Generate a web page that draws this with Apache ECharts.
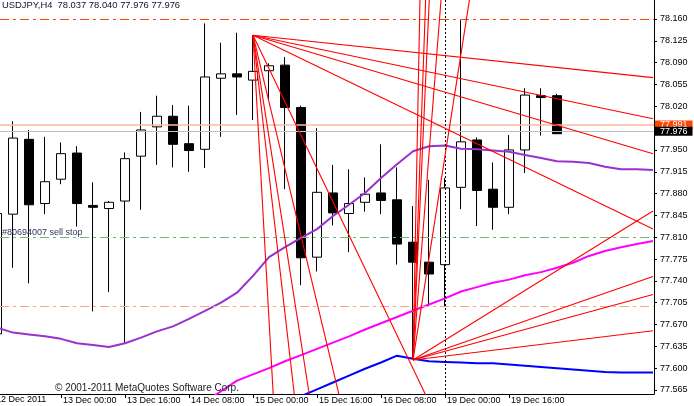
<!DOCTYPE html>
<html><head><meta charset="utf-8">
<script src="https://cdn.jsdelivr.net/npm/echarts@6/dist/echarts.min.js"></script>
<style>html,body{margin:0;padding:0;background:#fff}#c{width:694px;height:406px}</style>
</head><body><div id="c"></div>
<script>
// ---- data (bar index 0 = 12 Dec 12:00, 4-hour bars) ----
const barIndex = [-1,0,1,2,3,4,5,6,7,8,9,10,11,12,13,14,15,16,17,18,19,20,21,22,23,24,25,26,27,28,29,30,31,32,33,34];
const opens  = [77.655,77.847,77.967,77.864,77.903,77.945,77.861,77.856,77.868,77.940,77.987,78.004,77.960,77.951,78.065,78.072,78.062,78.077,78.086,78.018,77.778,77.881,77.848,77.866,77.881,77.870,77.802,77.770,77.766,77.890,77.966,77.887,77.858,77.950,78.037,78.037];
const closes = [77.848,77.969,77.862,77.899,77.944,77.864,77.858,77.866,77.936,77.982,78.004,77.959,77.949,78.067,78.072,78.067,78.076,78.085,78.018,77.777,77.882,77.849,77.864,77.879,77.869,77.799,77.770,77.751,77.889,77.963,77.885,77.858,77.950,78.038,78.034,77.976];
const lows   = [77.655,77.761,77.736,77.847,77.895,77.827,77.691,77.722,77.641,77.854,77.926,77.922,77.915,77.921,77.971,78.006,77.998,78.030,77.887,77.733,77.755,77.829,77.786,77.851,77.847,77.766,77.613,77.699,77.699,77.855,77.828,77.822,77.847,77.913,77.973,77.976];
const highs  = [77.848,77.996,77.982,77.971,77.962,77.956,77.898,77.868,77.946,78.011,78.037,78.022,78.021,78.153,78.122,78.138,78.134,78.089,78.099,78.021,77.985,77.926,77.919,77.906,77.959,77.922,77.860,77.902,77.905,78.158,77.970,77.930,77.974,78.049,78.049,78.040];

// moving averages (values at bar index)
const purpleStart = -1;
const purpleMA = [77.665,77.657,77.654,77.651,77.647,77.640,77.637,77.634,77.640,77.649,77.659,77.667,77.679,77.692,77.705,77.721,77.748,77.778,77.794,77.809,77.823,77.844,77.862,77.881,77.905,77.927,77.948,77.956,77.957,77.952,77.951,77.949,77.947,77.942,77.937,77.932,77.931,77.929,77.923,77.919,77.919,77.918];
const magentaStart = 12;
const magentaMA = [77.546,77.563,77.580,77.590,77.600,77.611,77.621,77.631,77.641,77.651,77.662,77.672,77.682,77.692,77.702,77.712,77.723,77.730,77.737,77.742,77.749,77.754,77.761,77.769,77.780,77.788,77.794,77.799,77.804];
const blueStart = 18;
const blueMA = [77.555,77.566,77.577,77.588,77.599,77.609,77.620,77.615,77.611,77.610,77.609,77.608,77.608,77.606,77.604,77.602,77.600,77.598,77.596,77.594,77.593,77.593,77.593];

// fan objects: origin [bar index, price] and end points
const fan1Origin = [15, 78.134];
const fan1Ends = [[40,78.066],[40,78.000],[40,77.944],[40,77.823],[16.39,77.50],[17.84,77.50],[18.87,77.50],[20.91,77.50],[26.86,77.50]];
const fan2Origin = [25, 77.613];
const fan2Ends = [[40,77.660],[40,77.718],[40,77.747],[40,77.852],[25.48,78.25],[25.87,78.25],[26.12,78.25],[26.93,78.25],[28.89,78.25]];

// horizontal levels
const resistLevel = 78.160;
const askLevel = 77.991;
const bidLevel = 77.976;
const sellStopLevel = 77.810;
const tpLevel = 77.701;
const vLineBar = 27;

// axis ticks
const xTickValues = [3,7,11,15,19,23,27,31];
const xTickLabels = ['13 Dec 00:00','13 Dec 16:00','14 Dec 08:00','15 Dec 00:00','15 Dec 16:00','16 Dec 08:00','19 Dec 00:00','19 Dec 16:00'];
const yTickValues = [77.565,77.600,77.635,77.670,77.705,77.740,77.775,77.810,77.845,77.880,77.915,77.950,77.985,78.020,78.055,78.090,78.125,78.160];

const FONT = '"Liberation Sans", Arial, sans-serif';

const candles = barIndex.map((x,i)=>[x, opens[i], closes[i], lows[i], highs[i]]);
const toSeries = (start, arr) => arr.map((v,i)=>[start+i, v]);

const fanSeries = [];
[[fan1Origin, fan1Ends],[fan2Origin, fan2Ends]].forEach(([o, ends])=>{
  ends.forEach(e=>{
    fanSeries.push({type:'line', data:[o, e], symbol:'none', silent:true, clip:true, z:5,
      lineStyle:{color:'#ff0000', width:1.1}});
  });
});

const chart = echarts.init(document.getElementById('c'), null, {renderer:'canvas'});
chart.setOption({
  animation:false,
  backgroundColor:'#ffffff',
  textStyle:{fontFamily:FONT},
  title:[
    {text:'USDJPY,H4  78.037 78.040 77.976 77.976', left:2, top:1, padding:0,
     textStyle:{fontSize:9.4, fontWeight:'normal', color:'#101038', fontFamily:FONT}},
    {text:'\u00a9 2001-2011 MetaQuotes Software Corp.', left:55, top:383, padding:0,
     textStyle:{fontSize:10, fontWeight:'normal', color:'#202020', fontFamily:FONT}}
  ],
  graphic:[{type:'text', x:-4, y:395, silent:true,
    style:{text:'12 Dec 2011', font:'9px ' + FONT, fill:'#000'}}],
  grid:{left:0, right:40, top:0, bottom:12, containLabel:false, outerBoundsMode:'none'},
  xAxis:{type:'value', min:-0.8125, max:40.0625,
    axisLine:{show:true, onZero:false, lineStyle:{color:'#000', width:1}},
    axisTick:{show:true, customValues:xTickValues, length:4, lineStyle:{color:'#000'}},
    axisLabel:{show:true, customValues:xTickValues, align:'left', margin:2, padding:[0,0,0,2],
      fontSize:9, color:'#000', fontFamily:FONT,
      formatter:(v)=>{const i = xTickValues.indexOf(Math.round(v)); return i>=0 ? xTickLabels[i] : '';}},
    splitLine:{show:false}},
  yAxis:{type:'value', position:'right', min:77.55854, max:78.19047,
    axisLine:{show:true, onZero:false, lineStyle:{color:'#000', width:1}},
    axisTick:{show:true, customValues:yTickValues, length:3, lineStyle:{color:'#000'}},
    axisLabel:{show:true, customValues:yTickValues, margin:6, fontSize:9, color:'#000', fontFamily:FONT,
      formatter:(v)=>Number(v).toFixed(3)},
    splitLine:{show:false}},
  series:[
    {type:'line', data:[], silent:true, z:1,
     markLine:{silent:true, symbol:['none','none'], animation:false,
       data:[
         {yAxis:resistLevel, lineStyle:{color:'#ff4500', type:[9,4,3,4], width:1}, label:{show:false}},
         {yAxis:askLevel, lineStyle:{color:'#ffb8a0', type:'solid', width:1.5},
          label:{show:true, position:'end', distance:1, formatter:'77.991', backgroundColor:'#ff4500', color:'#fff',
            padding:[1,5,0,5], lineHeight:8, fontSize:9, fontFamily:FONT}},
         {yAxis:bidLevel, lineStyle:{color:'#c0c0c0', type:'solid', width:1},
          label:{show:true, position:'end', distance:1, formatter:'77.976', backgroundColor:'#000', color:'#fff',
            padding:[1,5,0,5], lineHeight:8, fontSize:9, fontFamily:FONT}},
         {yAxis:sellStopLevel, lineStyle:{color:'#72b872', type:[9,4,3,4], width:1},
          label:{show:true, position:'insideStartTop', distance:[2,0], formatter:'#80694007 sell stop',
            color:'#2a3560', fontSize:9, fontFamily:FONT}},
         {yAxis:tpLevel, lineStyle:{color:'#ffa080', type:[9,4,3,4], width:1}, label:{show:false}},
         {xAxis:vLineBar, lineStyle:{color:'#000', type:[2,2], width:1}, label:{show:false}}
       ]}},
    {type:'candlestick', data:candles, encode:{x:0, y:[1,2,3,4]}, barWidth:10, silent:true, z:2,
     itemStyle:{color:'#ffffff', color0:'#000000', borderColor:'#000000', borderColor0:'#000000', borderWidth:1}},
    {type:'line', data:toSeries(purpleStart, purpleMA), symbol:'none', silent:true, z:4,
     lineStyle:{color:'#9932cc', width:2}},
    {type:'line', data:toSeries(magentaStart, magentaMA), symbol:'none', silent:true, z:4,
     lineStyle:{color:'#ff00ff', width:2}},
    {type:'line', data:toSeries(blueStart, blueMA), symbol:'none', silent:true, z:4,
     lineStyle:{color:'#0000ff', width:2}},
    ...fanSeries
  ]
});
</script></body></html>
